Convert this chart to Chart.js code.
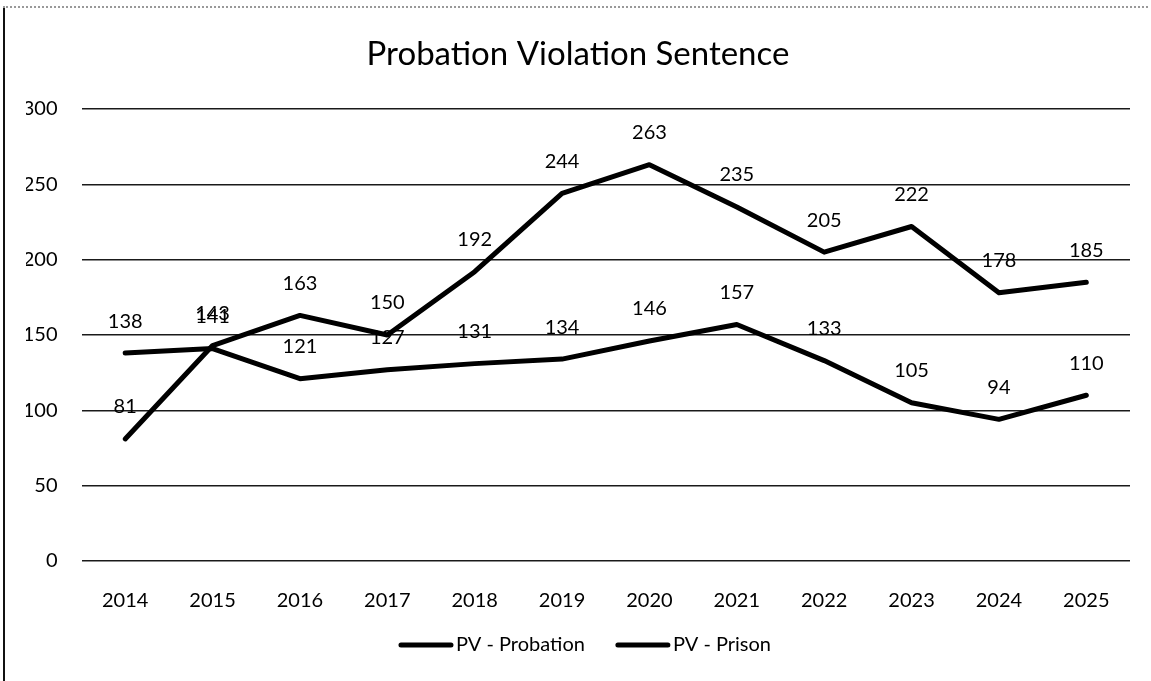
<!DOCTYPE html>
<html>
<head>
<meta charset="utf-8">
<script src="https://cdn.jsdelivr.net/npm/chart.js@4"></script>
<style>
  html, body { margin: 0; padding: 0; background: #fff; }
  #wrap { position: relative; width: 1151px; height: 681px; }
  #frame { position: absolute; left: 3px; top: 6px; width: 2px; height: 675px; background: #111; }
  #topline { position: absolute; left: 3px; top: 6px; width: 1145px; height: 0; border-top: 2px dotted #999; }
</style>
</head>
<body>
<div id="wrap">
  <canvas id="chart" width="1151" height="681"></canvas>
  <div id="frame"></div>
  <div id="topline"></div>
</div>
<script>
const years = ['2014', '2015', '2016', '2017', '2018', '2019', '2020', '2021', '2022', '2023', '2024', '2025'];
const probation = [138, 141, 121, 127, 131, 134, 146, 157, 133, 105, 94, 110];
const prison = [81, 143, 163, 150, 192, 244, 263, 235, 205, 222, 178, 185];
const yTicks = [0, 50, 100, 150, 200, 250, 300];

const FONT = 'Lato, "Open Sans", sans-serif';

// size the title so it spans about the same width as the original
const probe = document.createElement('canvas').getContext('2d');
probe.font = '100px ' + FONT;
const titleText = 'Probation Violation Sentence';
const titleSize = Math.round(100 * 427 / probe.measureText(titleText).width);
const titleTop = 54 - 0.6 * titleSize;

// value labels above every point
const labelPlugin = {
  id: 'pointLabels',
  afterDatasetsDraw(chart) {
    const ctx = chart.ctx;
    ctx.save();
    ctx.font = '20px ' + FONT;
    ctx.fillStyle = '#000';
    ctx.textAlign = 'center';
    ctx.textBaseline = 'middle';
    chart.data.datasets.forEach((ds, di) => {
      chart.getDatasetMeta(di).data.forEach((pt, i) => {
        ctx.fillText(String(ds.data[i]), pt.x, pt.y - 32);
      });
    });
    ctx.restore();
  }
};

// legend drawn like the Excel one: long thick line right before the text
const legendPlugin = {
  id: 'lineLegend',
  afterDraw(chart) {
    const ctx = chart.ctx;
    const lineLen = 54, gap = 3, itemGap = 31, cy = 645;
    ctx.save();
    ctx.font = '20px ' + FONT;
    ctx.textBaseline = 'middle';
    ctx.textAlign = 'left';
    const items = chart.data.datasets.map(ds => ({ ds, w: lineLen + gap + ctx.measureText(ds.label).width }));
    const total = items.reduce((s, it) => s + it.w, 0) + itemGap * (items.length - 1);
    let x = 585 - total / 2;
    items.forEach(it => {
      ctx.strokeStyle = it.ds.borderColor;
      ctx.lineWidth = 5;
      ctx.lineCap = 'round';
      ctx.beginPath();
      ctx.moveTo(x + 2, cy);
      ctx.lineTo(x + lineLen - 2, cy);
      ctx.stroke();
      ctx.fillStyle = '#000';
      ctx.fillText(it.ds.label, x + lineLen + gap, cy);
      x += it.w + itemGap;
    });
    ctx.restore();
  }
};

new Chart(document.getElementById('chart').getContext('2d'), {
  type: 'line',
  data: {
    labels: years,
    datasets: [
      { label: 'PV - Probation', data: probation, borderColor: '#000', backgroundColor: '#000', borderWidth: 5, pointRadius: 0, tension: 0, borderCapStyle: 'round', borderJoinStyle: 'round' },
      { label: 'PV - Prison', data: prison, borderColor: '#000', backgroundColor: '#000', borderWidth: 5, pointRadius: 0, tension: 0, borderCapStyle: 'round', borderJoinStyle: 'round' }
    ]
  },
  options: {
    responsive: false,
    animation: false,
    layout: { padding: { left: 26, right: 21, top: 0, bottom: 64 } },
    plugins: {
      title: {
        display: true,
        text: titleText,
        color: '#000',
        font: { family: FONT, size: titleSize, weight: 'normal', lineHeight: 1.2 },
        padding: { top: titleTop, bottom: 109 - titleTop - 1.2 * titleSize }
      },
      legend: { display: false },
      tooltip: { enabled: false }
    },
    scales: {
      x: {
        offset: true,
        afterFit(axis) { axis.height = 56; },
        grid: { display: false },
        border: { display: false },
        ticks: { color: '#000', padding: 20, maxRotation: 0, font: { family: FONT, size: 20 } }
      },
      y: {
        min: 0,
        max: 300,
        afterFit(axis) { axis.width = 55.5; },
        afterBuildTicks(axis) { axis.ticks = yTicks.map(v => ({ value: v })); },
        grid: { color: '#1a1a1a', lineWidth: 1.6, drawTicks: false },
        border: { display: false },
        ticks: { color: '#000', padding: 24, font: { family: FONT, size: 20 } }
      }
    }
  },
  plugins: [labelPlugin, legendPlugin]
});
</script>
</body>
</html>
